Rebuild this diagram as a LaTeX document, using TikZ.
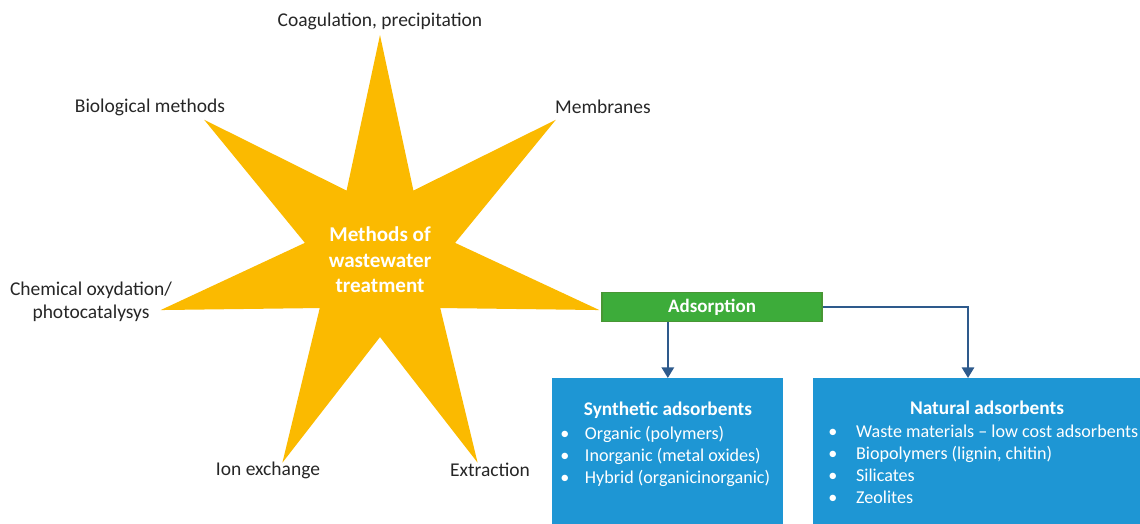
\documentclass[tikz,border=0pt]{standalone}
\usepackage{fontspec}
\setmainfont{Carlito}
\usepackage{xcolor}
\usepackage{tikz}
\usetikzlibrary{arrows.meta,positioning,calc,shapes.geometric}
\definecolor{stargold}{RGB}{251,186,0}
\definecolor{adsgreen}{RGB}{61,172,58}
\definecolor{adsedge}{RGB}{72,150,52}
\definecolor{boxblue}{RGB}{30,150,212}
\definecolor{flowblue}{RGB}{46,90,140}
\definecolor{labelgray}{RGB}{38,38,38}
\newcommand{\lbl}{\fontsize{11.1}{13.4}\selectfont}

\begin{document}
\begin{tikzpicture}[x=0.02cm,y=-0.02cm,>=Triangle,
  methodlabel/.style={font=\lbl,text=labelgray,align=center,inner sep=0pt},
  bigstar/.style={star,star points=7,star point ratio=2.92,fill=stargold,
    minimum size=9cm,inner sep=0pt,text=white,align=center,
    font=\fontsize{12}{14.6}\selectfont\bfseries},
  adsbox/.style={fill=adsgreen,draw=adsedge,line width=0.8pt,minimum width=4.4cm,
    minimum height=0.58cm,text=white,font=\fontsize{10.8}{13}\selectfont\bfseries},
  bluebox/.style={fill=boxblue,minimum height=3.4cm,anchor=north west,inner sep=0pt},
  boxhead/.style={text=white,font=\fontsize{11}{13}\selectfont\bfseries,inner sep=0pt},
  boxlist/.style={text=white,font=\fontsize{10.3}{12.5}\selectfont,inner sep=0pt,
    anchor=north west,align=left},
  flow/.style={->,flowblue,line width=1.2pt}]
\path[use as bounding box,clip] (0,0) rectangle (1140,524);

% the seven methods around the star
\node[bigstar] (methods) at (380,260) {Methods of\\wastewater\\treatment};
\node[methodlabel] (coag) at (380,21) {Coagulation, precipitation};
\node[methodlabel] (bio) at (150,107) {Biological methods};
\node[methodlabel] (memb) at (603,107) {Membranes};
\node[methodlabel] (chem) at (91,302) {Chemical oxydation/\\photocatalysys};
\node[methodlabel] (ionex) at (268,470) {Ion exchange};
\node[methodlabel] (extr) at (490,470) {Extraction};

% adsorption branch
\node[adsbox] (ads) at (712,307) {Adsorption};
\node[bluebox,minimum width=4.62cm] (synth) at (552,378) {};
\node[bluebox,minimum width=7cm] (natural) at (813,378) {};
\coordinate (natdrop) at (968,378);

\draw[flow] (ads.south -| synth.north) -- (synth.north);
\draw[flow] (ads.east) -| (natdrop);

\node[boxhead] (synthhead) at (668,410) {Synthetic adsorbents};
\node[boxlist] (synthlist) at (560,424) {%
  \begin{tabular}{@{}p{14pt}@{}l@{}}
  \textbullet & Organic (polymers)\\
  \textbullet & Inorganic (metal oxides)\\
  \textbullet & Hybrid (organicinorganic)
  \end{tabular}};
\node[boxhead] (nathead) at (987,408) {Natural adsorbents};
\node[boxlist] (natlist) at (828,422) {%
  \begin{tabular}{@{}p{15.8pt}@{}l@{}}
  \textbullet & Waste materials -- low cost adsorbents\\
  \textbullet & Biopolymers (lignin, chitin)\\
  \textbullet & Silicates\\
  \textbullet & Zeolites
  \end{tabular}};
\end{tikzpicture}
\end{document}
